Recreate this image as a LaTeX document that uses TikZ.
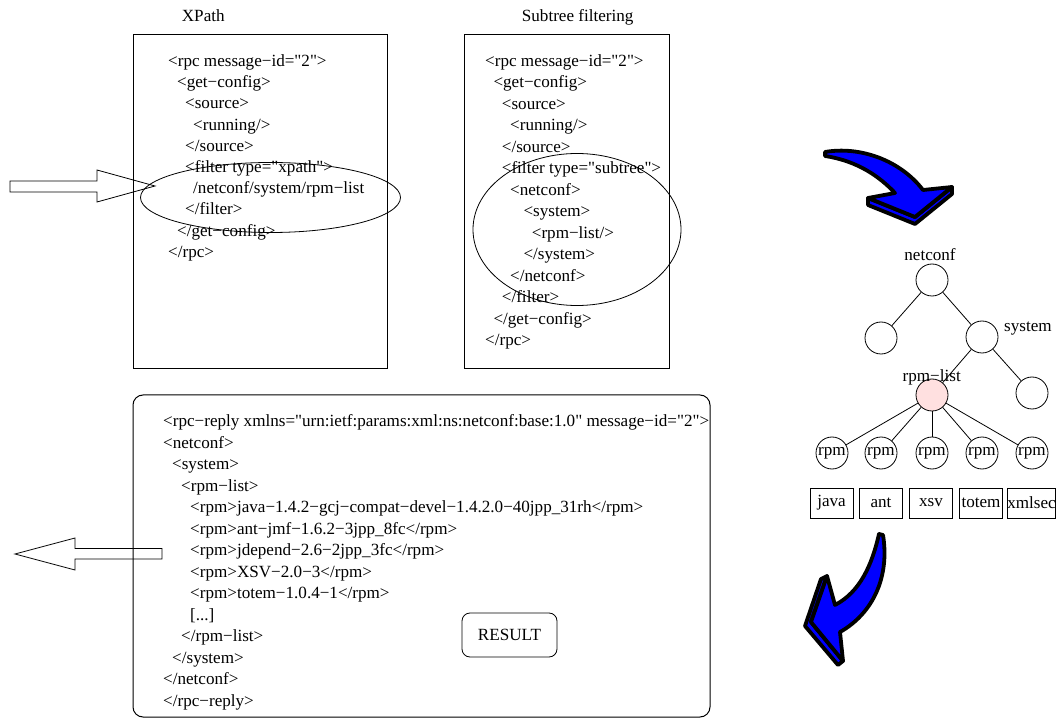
\documentclass[tikz,border=0pt]{standalone}
\usepackage{fontspec}
% plain family: no TeX ligature mapping, so " stays a straight quote
\newfontfamily\codefont{Liberation Serif}
\definecolor{arrowblue}{RGB}{0,0,255}
\definecolor{selpink}{RGB}{255,224,224}
\tikzset{
  txt/.style={inner sep=0pt, font=\codefont\fontsize{17.1}{20}\selectfont},
  code/.style={txt, anchor=base west},
  caption/.style={txt, anchor=base west},
  panel/.style={draw, line width=1pt},
  lasso/.style={draw, line width=0.8pt},
  hollow/.style={draw, line width=0.8pt, line join=miter},
  treenode/.style={txt, circle, draw, line width=0.8pt, minimum size=32pt},
  leaf/.style={txt, draw, line width=0.8pt, minimum width=43pt, minimum height=30pt},
  edge/.style={draw, line width=0.8pt},
  bluearrow/.style={fill=arrowblue, draw=black, line width=3.8pt, line join=round, line cap=round},
}
\begin{document}
\begin{tikzpicture}[x=1pt, y=-1pt]
\useasboundingbox (0,0) rectangle (1061,719);

% ---------- headings ----------
\node[caption] (hxpath) at (181.7,21.7) {XPath};
\node[caption] (hsub) at (521.7,21.7) {Subtree filtering};

% ---------- panel frames ----------
\draw[panel] (133,35) rectangle (387,369);
\draw[panel] (464,35) rectangle (669,369);
\draw[panel, rounded corners=10pt] (133,395) rectangle (710,717);

% ---------- XPath request ----------
\node[code] (a1)  at (168,66.8)  {<rpc message−id="2">};
\node[code] (a2)  at (177,87.9)  {<get−config>};
\node[code] (a3)  at (185,109.0) {<source>};
\node[code] (a4)  at (193,130.1) {<running/>};
\node[code] (a5)  at (185,151.2) {</source>};
\node[code] (a6)  at (185,172.3) {<filter type="xpath">};
\node[code] (a7)  at (193,193.4) {/netconf/system/rpm−list};
\node[code] (a8)  at (185,214.5) {</filter>};
\node[code] (a9)  at (177,236.6) {</get−config>};
\node[code] (a10) at (168,258.0) {</rpc>};
\draw[lasso] (270.5,197.5) ellipse [x radius=130, y radius=35];

% ---------- subtree request ----------
\node[code] (b1)  at (485,66.5)    {<rpc message−id="2">};
\node[code] (b2)  at (493.3,88)    {<get−config>};
\node[code] (b3)  at (501.7,109.5) {<source>};
\node[code] (b4)  at (510,131)     {<running/>};
\node[code] (b5)  at (501.7,152.5) {</source>};
\node[code] (b6)  at (501.7,174)   {<filter type="subtree">};
\node[code] (b7)  at (510,195.5)   {<netconf>};
\node[code] (b8)  at (523.3,217)   {<system>};
\node[code] (b9)  at (531.7,238.5) {<rpm−list/>};
\node[code] (b10) at (523.3,260)   {</system>};
\node[code] (b11) at (510,281.5)   {</netconf>};
\node[code] (b12) at (501.7,303)   {</filter>};
\node[code] (b13) at (493.3,324.5) {</get−config>};
\node[code] (b14) at (485,346)     {</rpc>};
\draw[lasso] (577,229.5) ellipse [x radius=104, y radius=76];

% ---------- reply ----------
\node[code] (c1)  at (163,426.5) {<rpc−reply xmlns="urn:ietf:params:xml:ns:netconf:base:1.0" message−id="2">};
\node[code] (c2)  at (163,448)   {<netconf>};
\node[code] (c3)  at (172,469.5) {<system>};
\node[code] (c4)  at (181,491)   {<rpm−list>};
\node[code] (c5)  at (190,512.5) {<rpm>java−1.4.2−gcj−compat−devel−1.4.2.0−40jpp\_31rh</rpm>};
\node[code] (c6)  at (190,534)   {<rpm>ant−jmf−1.6.2−3jpp\_8fc</rpm>};
\node[code] (c7)  at (190,555.5) {<rpm>jdepend−2.6−2jpp\_3fc</rpm>};
\node[code] (c8)  at (190,577)   {<rpm>XSV−2.0−3</rpm>};
\node[code] (c9)  at (190,598.5) {<rpm>totem−1.0.4−1</rpm>};
\node[code] (c10) at (190,620)   {[...]};
\node[code] (c11) at (181,641.5) {</rpm−list>};
\node[code] (c12) at (172,663)   {</system>};
\node[code] (c13) at (163,684.5) {</netconf>};
\node[code] (c14) at (163,706)   {</rpc−reply>};
\node[txt, draw, line width=0.8pt, rounded corners=8pt, minimum width=95pt, minimum height=44pt]
      (result) at (509.5,635) {RESULT};

% ---------- hollow pointer arrows ----------
\draw[hollow] (10,181) -- (97,181) -- (97,170) -- (155,186) -- (97,202) -- (97,192) -- (10,192) -- cycle;
\draw[hollow] (15,554) -- (75,538) -- (75,548.5) -- (162,548.5) -- (162,559) -- (75,559) -- (75,570) -- cycle;

% ---------- data tree ----------
\node[treenode] (root)  at (932,280) {};
\node[treenode] (left)  at (881,338) {};
\node[treenode] (sys)   at (982,337) {};
\node[treenode] (right) at (1032,393) {};
\node[treenode, fill=selpink] (rlist) at (932,395) {};
\foreach \n/\x in {1/832,2/881,3/932,4/982,5/1032}
  \node[treenode] (rpm\n) at (\x,453) {rpm};
\path[edge] (root) -- (left);
\path[edge] (root) -- (sys);
\path[edge] (sys) -- (rlist);
\path[edge] (sys) -- (right);
\foreach \n in {1,...,5} \path[edge] (rlist) -- (rpm\n);
\node[txt, anchor=base] (tnet)  at (930,260.7) {netconf};
\node[txt, anchor=base west] (tsys) at (1004,331.7) {system};
\node[txt, anchor=base] (trl)   at (931.7,382) {rpm−list};

\node[leaf] (java)   at (831.5,503) {java};
\node[leaf] (ant)    at (881,503)   {ant};
\node[leaf] (xsv)    at (931,503)   {xsv};
\node[leaf] (totem)  at (981,503)   {totem};
\node[leaf] (xmlsec) at (1031.5,503) {xmlsec};

% ---------- blue curved arrows ----------
% upper arrow: extruded underside of the head, then the face
\draw[bluearrow] (868,205) -- (915,224) -- (952,194) -- (952,187) -- (915,217) -- (868,198) -- cycle;
\draw[bluearrow]
  (825,152)
  .. controls (860,146) and (900,160) .. (923,190)
  -- (952,187) -- (915,217) -- (868,198) -- (895,193)
  .. controls (880,177) and (858,161) .. (825,156)
  -- cycle;
% lower arrow: extruded side of the head, then the face
\draw[bluearrow] (821,579) -- (805,626) -- (838,665) -- (843,661) -- (811,622) -- (827,576) -- cycle;
\draw[bluearrow]
  (879,534)
  .. controls (872,565) and (860,592) .. (835,605)
  -- (827,576) -- (811,622) -- (843,661) -- (840,632)
  .. controls (872,614) and (890,578) .. (883,535)
  -- cycle;
\end{tikzpicture}
\end{document}
